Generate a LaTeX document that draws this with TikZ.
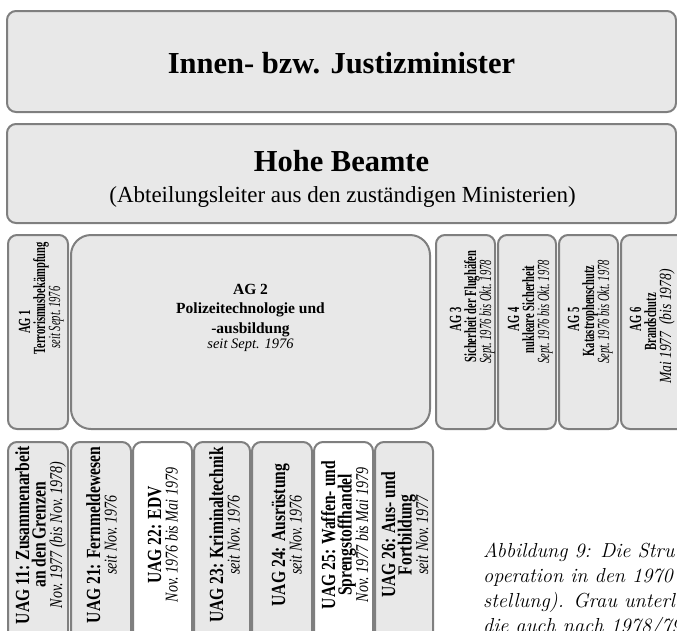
\documentclass[tikz,border=0pt]{standalone}
\usepackage{fontspec}
\newfontfamily\tnr{Liberation Serif}
\definecolor{boxfill}{RGB}{232,232,232}
\definecolor{boxline}{RGB}{127,127,127}
\newcommand\sqA[1]{\scalebox{0.62}[1]{#1}}
\newcommand\sqU[1]{\scalebox{0.78}[1]{#1}}
\tikzset{
  box/.style={draw=boxline, line width=2pt, fill=boxfill, rounded corners=9pt, inner sep=0pt, outer sep=0pt, anchor=north west},
  wbox/.style={box, fill=white},
  agb/.style={inner sep=0pt, rotate=90, anchor=base, font=\tnr\bfseries\fontsize{17}{17}\selectfont},
  agi/.style={inner sep=0pt, rotate=90, anchor=base, font=\tnr\itshape\fontsize{17}{17}\selectfont},
  uab/.style={inner sep=0pt, rotate=90, anchor=base, font=\tnr\bfseries\fontsize{20}{20}\selectfont},
  uai/.style={inner sep=0pt, rotate=90, anchor=base, font=\tnr\itshape\fontsize{18}{18}\selectfont},
  hz/.style={inner sep=0pt, anchor=base},
  captext/.style={inner sep=0pt, anchor=base west, font=\fontsize{20.3}{25}\selectfont\itshape},
}
\begin{document}
\begin{tikzpicture}[x=1pt,y=-1pt]
\useasboundingbox (0,0) rectangle (677,630);
\clip (0,0) rectangle (677,630);
% top boxes
\node[box, minimum width=669pt, minimum height=101pt] (minister) at (7,11) {};
\node[box, minimum width=669pt, minimum height=99pt] (beamte) at (7,124) {};
\node[hz, font=\tnr\bfseries\fontsize{30.5}{36}\selectfont] (ministert) at (341.5,73) {Innen- bzw. Justizminister};
\node[hz, font=\tnr\bfseries\fontsize{30.5}{36}\selectfont] (beamtet) at (341.5,171) {Hohe Beamte};
\node[hz, font=\tnr\fontsize{23}{28}\selectfont] (beamtes) at (342.5,202) {(Abteilungsleiter aus den zuständigen Ministerien)};
% AG row
\node[box, minimum width=60pt, minimum height=194pt] (ag1) at (8,235) {};
\node[box, rounded corners=20pt, minimum width=359pt, minimum height=194pt] (ag2) at (71,235) {};
\node[box, minimum width=59pt, minimum height=194pt] (ag3) at (436,235) {};
\node[box, minimum width=58pt, minimum height=194pt] (ag4) at (498,235) {};
\node[box, minimum width=59pt, minimum height=194pt] (ag5) at (559,235) {};
\node[box, minimum width=65pt, minimum height=194pt] (ag6) at (621,235) {};
% AG texts
\node[agb] (ag1a) at (30,322) {\sqA{AG 1}};
\node[agb] (ag1b) at (45,298.5) {\sqA{Terrorismusbekämpfung}};
\node[agi] (ag1c) at (60,317.5) {\sqA{seit Sept.\ 1976}};
\node[hz, font=\tnr\bfseries\fontsize{15.5}{19}\selectfont] (ag2a) at (250.5,294) {AG 2};
\node[hz, font=\tnr\bfseries\fontsize{15.5}{19}\selectfont] (ag2b) at (250.5,313) {Polizeitechnologie und};
\node[hz, font=\tnr\bfseries\fontsize{15.5}{19}\selectfont] (ag2c) at (250.5,333) {-ausbildung};
\node[hz, font=\tnr\itshape\fontsize{14.5}{18}\selectfont] (ag2d) at (250.5,348) {seit Sept. 1976};
\node[agb] (ag3a) at (461,319.5) {\sqA{AG 3}};
\node[agb] (ag3b) at (476,306.5) {\sqA{Sicherheit der Flughäfen}};
\node[agi] (ag3c) at (491,312) {\sqA{Sept.\ 1976 bis Okt.\ 1978}};
\node[agb] (ag4a) at (519,319.5) {\sqA{AG 4}};
\node[agb] (ag4b) at (534,309.5) {\sqA{nukleare Sicherheit}};
\node[agi] (ag4c) at (549,312) {\sqA{Sept.\ 1976 bis Okt.\ 1978}};
\node[agb] (ag5a) at (579,319.5) {\sqA{AG 5}};
\node[agb] (ag5b) at (594,311) {\sqA{Katastrophenschutz}};
\node[agi] (ag5c) at (609,312) {\sqA{Sept.\ 1976 bis Okt.\ 1978}};
\node[agb] (ag6a) at (641,319.5) {\sqA{AG 6}};
\node[agb] (ag6b) at (656,322) {\sqA{Brandschutz}};
\node[agi] (ag6c) at (671,326.5) {\scalebox{0.8}[1]{Mai 1977\ \ (bis 1978)}};
% UAG row
\node[box, minimum width=60pt, minimum height=200pt] (uag11) at (8,442) {};
\node[box, minimum width=60pt, minimum height=200pt] (uag21) at (71,442) {};
\node[wbox, minimum width=59pt, minimum height=200pt] (uag22) at (133,442) {};
\node[box, minimum width=56pt, minimum height=200pt] (uag23) at (194,442) {};
\node[box, minimum width=60pt, minimum height=200pt] (uag24) at (252,442) {};
\node[wbox, minimum width=59pt, minimum height=200pt] (uag25) at (314,442) {};
\node[box, minimum width=58pt, minimum height=200pt] (uag26) at (375,442) {};
% UAG texts
\node[uab] (u11a) at (29,535) {\sqU{UAG 11: Zusammenarbeit}};
\node[uab] (u11b) at (45.5,535) {\sqU{an den Grenzen}};
\node[uai] (u11c) at (62,535) {\sqU{Nov.\ 1977 (bis Nov.\ 1978)}};
\node[uab] (u21a) at (100,535) {\sqU{UAG 21: Fernmeldewesen}};
\node[uai] (u21b) at (116.5,535) {\sqU{seit Nov.\ 1976}};
\node[uab] (u22a) at (161,535) {\sqU{UAG 22: EDV}};
\node[uai] (u22b) at (177.5,535) {\sqU{Nov.\ 1976 bis Mai 1979}};
\node[uab] (u23a) at (223,535) {\sqU{UAG 23: Kriminaltechnik}};
\node[uai] (u23b) at (239.5,535) {\sqU{seit Nov.\ 1976}};
\node[uab] (u24a) at (285,535) {\sqU{UAG 24: Ausrüstung}};
\node[uai] (u24b) at (301.5,535) {\sqU{seit Nov.\ 1976}};
\node[uab] (u25a) at (335,535) {\sqU{UAG 25: Waffen- und}};
\node[uab] (u25b) at (351.5,535) {\sqU{Sprengstoffhandel}};
\node[uai] (u25c) at (368,535) {\sqU{Nov.\ 1977 bis Mai 1979}};
\node[uab] (u26a) at (395,535) {\sqU{UAG 26: Aus- und}};
\node[uab] (u26b) at (411.5,535) {\sqU{Fortbildung}};
\node[uai] (u26c) at (428,535) {\sqU{seit Nov.\ 1977}};
% caption
\node[captext] (cap1) at (483,557) {Abbildung 9: Die Stru};
\node[captext] (cap2) at (483,582) {operation in den 1970};
\node[captext] (cap3) at (483,607) {stellung). Grau unterl};
\node[captext] (cap4) at (483,632) {die auch nach 1978/79};
\end{tikzpicture}
\end{document}
